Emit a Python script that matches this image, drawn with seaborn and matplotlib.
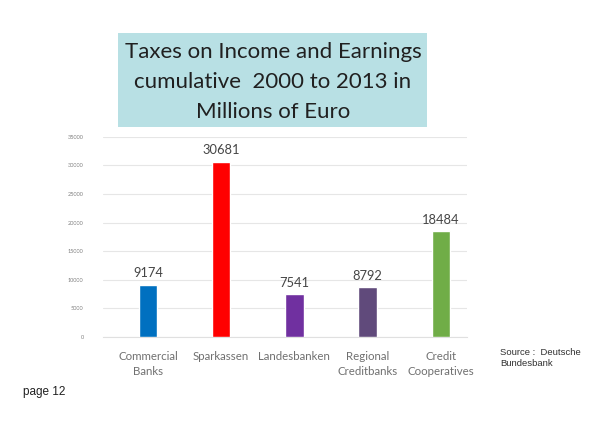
import matplotlib
matplotlib.use("Agg")
import matplotlib.pyplot as plt
import seaborn as sns
import pandas as pd
from matplotlib.patches import Rectangle

categories = ["Commercial\nBanks", "Sparkassen", "Landesbanken", "Regional\nCreditbanks", "Credit\nCooperatives"]
values = [9174, 30681, 7541, 8792, 18484]
colors = ["#0070c0", "#ff0000", "#7030a0", "#604a7b", "#70ad47"]
yticks = [0, 5000, 10000, 15000, 20000, 25000, 30000, 35000]

sns.set_theme(style="white")
plt.rcParams['font.family'] = ['Lato', 'DejaVu Sans']

fig = plt.figure(figsize=(6, 4.25), dpi=100)
ax = fig.add_axes([0.1717, 0.207, 0.6063, 0.471])

df = pd.DataFrame({"cat": categories, "val": values})
sns.barplot(data=df, x="cat", y="val", hue="cat", palette=colors, legend=False,
            width=0.25, ax=ax, saturation=1, zorder=3)

ax.set_ylim(0, 35000)
ax.set_xlim(-0.614, 4.355)
ax.set_yticks(yticks)
ax.set_yticklabels([str(t) for t in yticks], fontsize=4, color="#808080")
ax.tick_params(axis='y', length=0, pad=14)
ax.tick_params(axis='x', length=0, pad=10, labelsize=8.3, labelcolor="#707070")
for lab in ax.get_xticklabels():
    lab.set_linespacing(1.45)
ax.yaxis.grid(True, color="#e6e6e6", linewidth=0.8, zorder=0)
ax.xaxis.grid(False)
for s in ["top", "right", "left"]:
    ax.spines[s].set_visible(False)
ax.spines["bottom"].set_color("#e0e0e0")
ax.spines["bottom"].set_linewidth(0.8)
ax.set_xlabel("")
ax.set_ylabel("")

for i, v in enumerate(values):
    ax.text(i, v + 900, str(v), ha="center", va="bottom", fontsize=9.3, color="#454545")

# title box
fig.patches.append(Rectangle((118/600, 1-127/425), (427-118)/600, (127-33)/425,
                             transform=fig.transFigure, facecolor="#b8e0e4", edgecolor="none", zorder=0))
fig.text(273/600, 1-82/425, "Taxes on Income and Earnings\ncumulative  2000 to 2013 in\nMillions of Euro",
         ha="center", va="center", fontsize=16, color="#202020", linespacing=1.6)

fig.text(500/600, 1-358/425, "Source :  Deutsche\nBundesbank", ha="left", va="center",
         fontsize=6.8, color="#303030", family=["Liberation Sans", "DejaVu Sans"], linespacing=1.35)
fig.text(23/600, 1-392/425, "page 12", ha="left", va="center",
         fontsize=8.5, color="#202020", family=["Liberation Sans", "DejaVu Sans"])

fig.savefig("out.png", dpi=100)
